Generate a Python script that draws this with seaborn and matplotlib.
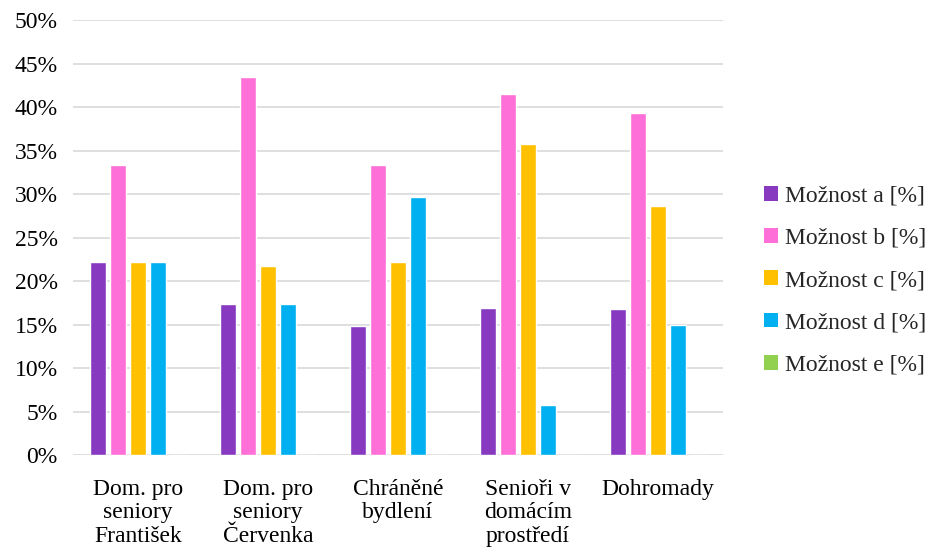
import numpy as np
import pandas as pd
import matplotlib
matplotlib.use("Agg")
import matplotlib.pyplot as plt
import seaborn as sns
from matplotlib.ticker import PercentFormatter
from matplotlib.patches import Patch

categories = [
    "Dom. pro\nseniory\nFrantišek",
    "Dom. pro\nseniory\nČervenka",
    "Chráněné\nbydlení",
    "Senioři v\ndomácím\nprostředí",
    "Dohromady",
]
series = ["Možnost a [%]", "Možnost b [%]", "Možnost c [%]", "Možnost d [%]", "Možnost e [%]"]
option_a = [22.2, 17.4, 14.8, 16.9, 16.8]
option_b = [33.3, 43.5, 33.3, 41.5, 39.3]
option_c = [22.2, 21.7, 22.2, 35.8, 28.6]
option_d = [22.2, 17.4, 29.6, 5.7, 15.0]
option_e = [0.0, 0.0, 0.0, 0.0, 0.0]
colors = ["#873AC0", "#FF6FD8", "#FFC000", "#00B0F0", "#92D050"]

values = [option_a, option_b, option_c, option_d, option_e]
df = pd.DataFrame(
    [(cat, s, v) for s, vals in zip(series, values) for cat, v in zip(categories, vals)],
    columns=["kategorie", "moznost", "hodnota"],
)

sns.set_theme(style="white")
plt.rcParams["font.family"] = ["Liberation Serif", "DejaVu Serif"]

fig, ax = plt.subplots(figsize=(9.28, 5.48), dpi=100)
fig.subplots_adjust(left=0.0787, right=0.779, top=0.9635, bottom=0.1697)

sns.barplot(
    data=df, x="kategorie", y="hodnota", hue="moznost",
    hue_order=series, order=categories, palette=colors,
    width=0.77, gap=0.2, saturation=1, ax=ax, legend=False,
)

ax.set_ylim(0, 50)
ax.set_yticks(np.arange(0, 51, 5))
ax.yaxis.set_major_formatter(PercentFormatter(decimals=0))
ax.grid(axis="y", color="#D9D9D9", linewidth=1.2)
ax.set_axisbelow(True)
for sp in ax.spines.values():
    sp.set_visible(False)
ax.tick_params(axis="both", length=0, labelsize=17, colors="#000000")
ax.tick_params(axis="y", pad=11)
ax.tick_params(axis="x", pad=17)
for lbl in ax.get_xticklabels():
    lbl.set_linespacing(1.17)
    lbl.set_verticalalignment("top")
ax.set_xlabel("")
ax.set_ylabel("")

handles = [Patch(facecolor=c, edgecolor="none") for c in colors]
fig.legend(
    handles, series, loc="center left", bbox_to_anchor=(0.823, 0.488),
    frameon=False, fontsize=17, handlelength=0.6, handleheight=0.6,
    handletextpad=0.3, labelspacing=0.9, borderaxespad=0, borderpad=0,
)

fig.savefig("out.png", dpi=100)
